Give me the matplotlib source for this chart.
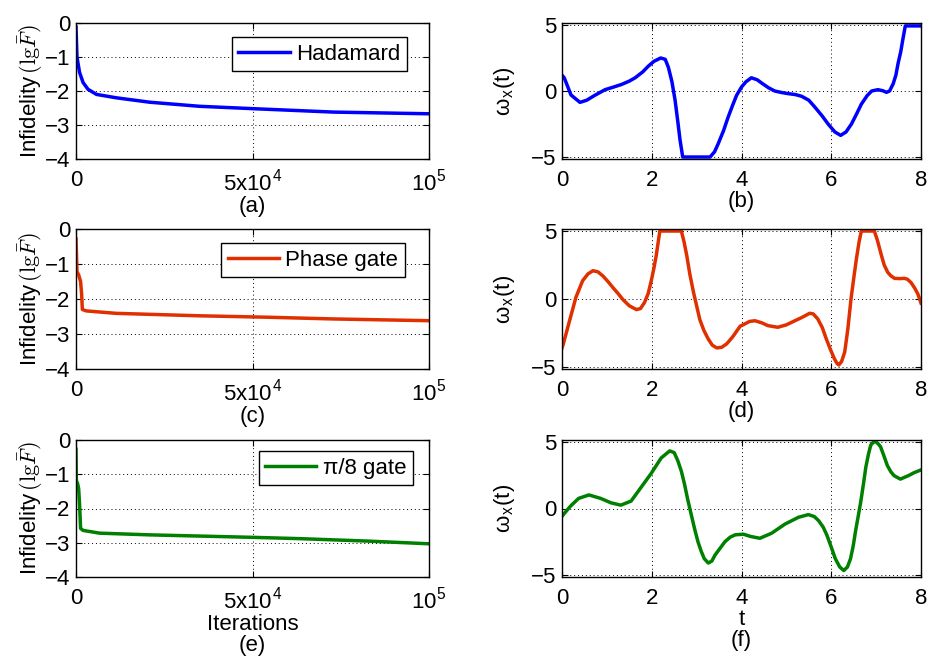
import matplotlib
matplotlib.use("Agg")
import matplotlib.pyplot as plt

plt.rcParams['font.family'] = ['Liberation Sans', 'DejaVu Sans']
plt.rcParams['mathtext.fontset'] = 'cm'

# ---------------- data ----------------
# Infidelity vs iterations
had_iter = [0, 280, 1000, 2000, 3400, 5800, 11400, 20900, 35000, 50200, 72900, 100000]
had_inf = [-0.12, -1.0, -1.45, -1.75, -1.95, -2.1, -2.2, -2.33, -2.45, -2.52, -2.62, -2.67]

ph_iter = [0, 280, 750, 1300, 1600, 1800, 2900, 11400, 35000, 54000, 72900, 100000]
ph_inf = [-0.28, -1.22, -1.31, -1.5, -1.87, -2.3, -2.34, -2.41, -2.48, -2.52, -2.57, -2.62]

pi8_iter = [0, 100, 470, 750, 1000, 1300, 2000, 6700, 20900, 49200, 63400, 82300, 100000]
pi8_inf = [-0.27, -1.18, -1.28, -1.42, -1.86, -2.58, -2.64, -2.72, -2.77, -2.84, -2.88, -2.95, -3.03]

# Control pulses omega_x(t)
had_t = [0.0, 0.05, 0.2, 0.4, 0.55, 0.73, 0.96, 1.15, 1.33, 1.5, 1.63, 1.8, 1.92, 2.05, 2.2, 2.3,
         2.37, 2.45, 2.52, 2.58, 2.63, 2.69, 3.3, 3.4, 3.48, 3.6, 3.7, 3.8, 3.89, 4.0, 4.1, 4.22,
         4.35, 4.45, 4.6, 4.74, 4.9, 5.04, 5.2, 5.34, 5.5, 5.63, 5.8, 5.93, 6.08, 6.21, 6.33, 6.45,
         6.57, 6.67, 6.8, 6.9, 7.04, 7.15, 7.23, 7.3, 7.38, 7.44, 7.49, 7.55, 7.59, 7.65, 8.0]
had_w = [1.2, 1.0, -0.3, -0.86, -0.7, -0.33, 0.1, 0.3, 0.5, 0.75, 1.0, 1.45, 1.87, 2.25, 2.5, 2.4,
         1.8, 0.7, -0.7, -2.3, -3.7, -5.0, -5.0, -4.6, -4.0, -3.0, -2.0, -1.1, -0.33, 0.3, 0.7, 1.0,
         0.85, 0.6, 0.25, 0.0, -0.12, -0.2, -0.27, -0.4, -0.7, -1.2, -1.9, -2.5, -3.1, -3.36, -3.1,
         -2.5, -1.7, -1.0, -0.35, 0.0, 0.1, 0.02, -0.1, 0.0, 0.55, 1.2, 2.1, 3.0, 3.8, 4.93, 4.93]

ph_t = [0.0, 0.03, 0.16, 0.31, 0.46, 0.58, 0.69, 0.8, 0.91, 1.02, 1.13, 1.25, 1.36, 1.5, 1.66, 1.75,
        1.84, 1.92, 1.99, 2.05, 2.1, 2.18, 2.66, 2.72, 2.78, 2.85, 2.93, 3.0, 3.07, 3.16, 3.26,
        3.35, 3.45, 3.56, 3.67, 3.8, 3.97, 4.07, 4.18, 4.3, 4.45, 4.59, 4.81, 5.0, 5.19, 5.35,
        5.52, 5.6, 5.7, 5.8, 5.89, 5.98, 6.07, 6.13, 6.17, 6.23, 6.3, 6.37, 6.44, 6.5, 6.56, 6.62,
        6.67, 6.96, 7.03, 7.11, 7.18, 7.26, 7.33, 7.41, 7.52, 7.63, 7.7, 7.78, 7.86, 7.93, 8.0]
ph_w = [-3.6, -3.3, -1.7, 0.12, 1.35, 1.85, 2.08, 2.0, 1.7, 1.3, 0.86, 0.4, -0.05, -0.5, -0.78, -0.7,
        -0.25, 0.4, 1.35, 2.3, 3.2, 5.0, 5.0, 4.2, 3.2, 1.8, 0.5, -0.5, -1.5, -2.3, -2.95,
        -3.4, -3.6, -3.55, -3.3, -2.8, -2.0, -1.84, -1.65, -1.6, -1.75, -1.96, -2.08, -1.9, -1.6, -1.35,
        -1.05, -1.1, -1.47, -2.1, -2.94, -3.7, -4.4, -4.75, -4.85, -4.6, -3.9, -2.2, 0.0, 1.5, 2.94, 4.2,
        5.0, 5.0, 4.3, 3.3, 2.5, 1.96, 1.7, 1.52, 1.5, 1.52, 1.45, 1.2, 0.8, 0.37, -0.3]

pi8_t = [0.0, 0.02, 0.19, 0.37, 0.6, 0.86, 1.09, 1.31, 1.54, 1.76, 1.99, 2.21, 2.4, 2.5, 2.58,
         2.66, 2.73, 2.8, 2.88, 2.96, 3.03, 3.1, 3.17, 3.26, 3.34, 3.41, 3.52, 3.63, 3.75, 3.86,
         4.04, 4.2, 4.41, 4.67, 4.97, 5.27, 5.49, 5.62, 5.72, 5.82, 5.9, 6.0, 6.09, 6.19, 6.28,
         6.36, 6.43, 6.49, 6.54, 6.6, 6.66, 6.72, 6.77, 6.83, 6.88, 6.94, 7.0, 7.05, 7.1, 7.18,
         7.25, 7.33, 7.4, 7.54, 7.72, 7.85, 8.0]
pi8_w = [-0.6, -0.5, 0.18, 0.76, 1.02, 0.76, 0.43, 0.25, 0.56, 1.58, 2.65, 3.8, 4.33, 4.2, 3.6,
         2.8, 1.83, 0.7, -0.46, -1.6, -2.5, -3.2, -3.77, -4.1, -3.95, -3.5, -3.0, -2.5, -2.15, -1.98,
         -1.93, -2.1, -2.24, -1.86, -1.17, -0.66, -0.46, -0.6, -0.92, -1.4, -1.98, -2.9, -3.77, -4.4, -4.66,
         -4.4, -3.77, -2.8, -1.73, -0.6, 0.56, 1.9, 3.1, 4.1, 4.76, 5.0, 5.0, 4.85, 4.63, 3.9,
         3.23, 2.75, 2.47, 2.21, 2.47, 2.7, 2.9]

blue = '#0000FF'
red = '#E03000'
green = '#008000'

left_rows = [
    (had_iter, had_inf, blue, 'Hadamard', '(a)', (0.938, 0.897)),
    (ph_iter, ph_inf, red, 'Phase gate', '(c)', (0.932, 0.90)),
    (pi8_iter, pi8_inf, green, '\u03c0/8 gate', 'Iterations\n(e)', (0.955, 0.92)),
]
right_rows = [
    (had_t, had_w, blue, '(b)'),
    (ph_t, ph_w, red, '(d)'),
    (pi8_t, pi8_w, green, 't\n(f)'),
]

fig = plt.figure(figsize=(9.27, 6.62), dpi=100)
W, H = 927, 662
rows_px = [(23, 159), (229, 369), (440, 577)]
fs = 16

def style(ax):
    ax.tick_params(direction='in', top=True, right=True, labelsize=fs, width=0.8, length=4, pad=4)
    ax.tick_params(axis='x', pad=8)
    ax.grid(True, linestyle=(0, (1, 3)), color='black', linewidth=0.7)
    for s in ax.spines.values():
        s.set_linewidth(1.0)

for i, (top, bot) in enumerate(rows_px):
    b = 1 - bot / H
    h = (bot - top) / H
    # left panel
    x, y, c, lab, cap, anchor = left_rows[i]
    ax = fig.add_axes([76 / W, b, (429 - 76) / W, h])
    ax.plot(x, y, color=c, linewidth=2.5, label=lab)
    ax.set_xlim(0, 100000)
    ax.set_ylim(-4, 0)
    ax.set_xticks([0, 50000, 100000])
    ax.set_xticklabels(['0', r'5x10$^\mathregular{4}$', r'10$^\mathregular{5}$'])
    ax.set_yticks([-4, -3, -2, -1, 0])
    ax.set_yticklabels(['\u22124', '\u22123', '\u22122', '\u22121', '0'])
    style(ax)
    ax.set_ylabel(r'Infidelity$\,(\mathrm{lg}\bar{F})$', fontsize=fs, labelpad=0)
    ax.set_xlabel(cap, fontsize=fs, labelpad=0, linespacing=1.0)
    leg = ax.legend(loc='upper right', bbox_to_anchor=anchor, fontsize=fs, fancybox=False,
                    edgecolor='black', framealpha=1, handlelength=2.3, borderpad=0.3,
                    handletextpad=0.3, borderaxespad=0)
    leg.get_frame().set_linewidth(1.0)

    # right panel
    t, w, c, cap = right_rows[i]
    ax2 = fig.add_axes([562 / W, b, (921 - 562) / W, h])
    ax2.plot(t, w, color=c, linewidth=2.5)
    ax2.set_xlim(0, 8)
    ax2.set_ylim(-5.15, 5.15)
    ax2.set_xticks([0, 2, 4, 6, 8])
    ax2.set_yticks([-5, 0, 5])
    ax2.set_yticklabels(['\u22125', '0', '5'])
    style(ax2)
    ax2.set_ylabel('\u03c9$_\\mathregular{x}$(t)', fontsize=fs, labelpad=10)
    ax2.set_xlabel(cap, fontsize=fs, labelpad=0, linespacing=1.0)

fig.savefig('out.png', dpi=100)
